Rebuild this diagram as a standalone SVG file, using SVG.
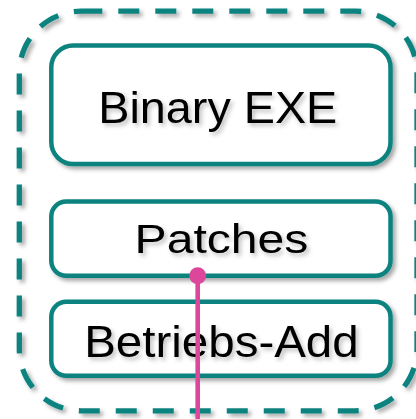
<svg xmlns="http://www.w3.org/2000/svg" width="416" height="419" viewBox="0 0 416 419">
  <defs>
    <filter id="shadow" x="-10%" y="-10%" width="130%" height="130%">
      <feDropShadow dx="3" dy="3" stdDeviation="2" flood-color="#000" flood-opacity="0.35"/>
    </filter>
    <filter id="text-shadow" x="-10%" y="-20%" width="130%" height="150%">
      <feDropShadow dx="2.5" dy="3" stdDeviation="2" flood-color="#000" flood-opacity="0.25"/>
    </filter>
  </defs>
  <style>
    .frame { fill: none; stroke: #0B837F; stroke-width: 5.3; stroke-dasharray: 21 16; filter: url(#shadow); }
    .box { fill: #fff; stroke: #0B837F; stroke-width: 4.5; filter: url(#shadow); }
    .label { font-family: "Liberation Sans", Arial, sans-serif; fill: #000; filter: url(#text-shadow); }
    .link { stroke: #DC479C; stroke-width: 4.6; fill: none; }
    .dot { fill: #DC479C; }
  </style>
  <rect width="416" height="419" fill="#fff"/>

  <!-- container -->
  <rect id="container" class="frame" x="19.3" y="11.2" width="397.7" height="399.6" rx="62" ry="62"/>

  <g id="binary-exe">
    <rect class="box" x="51.3" y="45.5" width="339.2" height="118.5" rx="22" ry="22"/>
    <text class="label" x="98.3" y="122.7" font-size="44.7" textLength="239" lengthAdjust="spacingAndGlyphs">Binary EXE</text>
  </g>

  <g id="patches">
    <rect class="box" x="51.3" y="201.5" width="339.2" height="74.3" rx="15" ry="15"/>
    <text class="label" x="134.6" y="253.3" font-size="41.5" textLength="173.7" lengthAdjust="spacingAndGlyphs">Patches</text>
  </g>

  <g id="betriebs-add">
    <rect class="box" x="51.3" y="301.8" width="339.2" height="74" rx="15" ry="15"/>
    <text class="label" x="84.2" y="356.7" font-size="44" textLength="274.5" lengthAdjust="spacingAndGlyphs">Betriebs-Add</text>
  </g>

  <g id="connectors">
    <line class="link" x1="197.7" y1="275.7" x2="197.7" y2="425"/>
    <circle class="dot" cx="197.7" cy="275.7" r="8.5"/>
  </g>
</svg>
